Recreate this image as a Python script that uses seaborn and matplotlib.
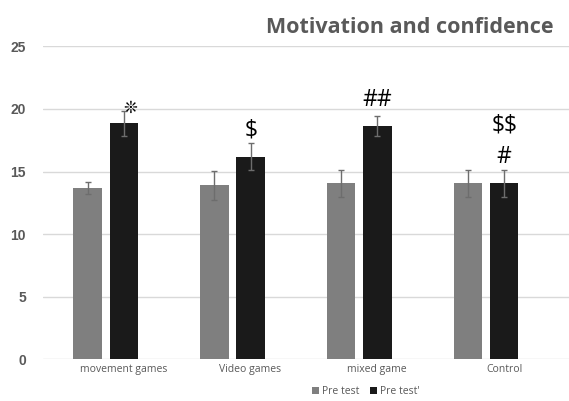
import matplotlib
matplotlib.use("Agg")
import matplotlib.pyplot as plt
from matplotlib.transforms import ScaledTranslation
import numpy as np
import pandas as pd
import seaborn as sns

# data
groups = ['movement games', 'Video games', 'mixed game', 'Control']
series = ['Pre test', "Pre test'"]
pre_mean = [13.7, 13.9, 14.05, 14.05]
pre_sd = [0.45, 1.13, 1.1, 1.1]
post_mean = [18.85, 16.2, 18.65, 14.05]
post_sd = [1.0, 1.1, 0.82, 1.04]
marks = ['❊', '\\$', '##', '#']
mark_y = [20.1, 18.25, 20.7, 16.15]
extra_mark = '\\$\\$'
extra_mark_y = 18.7
ticks = [0, 5, 10, 15, 20, 25]

df = pd.DataFrame({
    'group': groups * 2,
    'test': [series[0]] * 4 + [series[1]] * 4,
    'score': pre_mean + post_mean,
    'sd': pre_sd + post_sd,
})

sns.set_theme(style='white')
plt.rcParams['font.family'] = ['DejaVu Sans']

fig = plt.figure(figsize=(5.69, 4.01), dpi=100)
ax = fig.add_axes([42.7 / 569, 0.1035, 1 - 42.7 / 569, 0.781])

sns.barplot(data=df, x='group', y='score', hue='test', order=groups,
            hue_order=series, palette=['#7f7f7f', '#1a1a1a'],
            width=0.573, gap=0.22, errorbar=None, legend=True, ax=ax,
            saturation=1, linewidth=0, zorder=2)

# error bars on top of each bar
bars = [p for p in ax.patches if p.get_height() > 0]
sds = pre_sd + post_sd
for p, s in zip(bars, sds):
    cx = p.get_x() + p.get_width() / 2
    ax.errorbar(cx, p.get_height(), yerr=s, color='#6d6d6d', lw=1,
                capsize=2.5, capthick=1, zorder=3)

# significance marks above the second series
post_bars = bars[4:]
for p, m, y in zip(post_bars, marks, mark_y):
    cx = p.get_x() + p.get_width() / 2
    dx = 0.05 if m == '❊' else 0
    ax.text(cx + dx, y, m, ha='center', va='center',
            fontsize=12 if m == '❊' else 16.5, color='black',
            family=['DejaVu Sans'] if m == '❊' else ['Open Sans'])
cx = post_bars[3].get_x() + post_bars[3].get_width() / 2
ax.text(cx, extra_mark_y, extra_mark, ha='center', va='center',
        fontsize=16.5, color='black', family=['Open Sans'])

ax.set_ylim(0, 25)
ax.set_xlim(-0.497, 3.654)
ax.set_yticks(ticks)
ax.yaxis.grid(True, color='#d9d9d9', lw=1, zorder=0)
ax.set_axisbelow(True)
for sp in ax.spines.values():
    sp.set_visible(False)
ax.set_xlabel('')
ax.set_ylabel('')
ax.tick_params(axis='both', length=0)
ax.tick_params(axis='y', pad=12)
ax.tick_params(axis='x', pad=3)
for lab in ax.get_yticklabels():
    lab.set_family(['Liberation Sans'])
    lab.set_fontweight('bold')
    lab.set_fontsize(10)
    lab.set_color('#595959')
shift = ScaledTranslation(18 / 100, 0, fig.dpi_scale_trans)
for lab in ax.get_xticklabels():
    lab.set_family(['Open Sans'])
    lab.set_fontsize(7.5)
    lab.set_color('#595959')
    lab.set_transform(lab.get_transform() + shift)

leg = ax.legend(loc='center', bbox_to_anchor=(366 / 569, 0.023),
                bbox_transform=fig.transFigure, ncol=2, frameon=False,
                handlelength=0.7, handleheight=0.7, handletextpad=0.3,
                columnspacing=1.0, prop={'family': 'Open Sans', 'size': 7.5})
for t in leg.get_texts():
    t.set_color('#595959')

fig.text(554 / 569, 1 - 33.3 / 401, 'Motivation and confidence',
         ha='right', va='baseline', fontsize=15.5, fontweight='bold',
         color='#595959', family=['Open Sans'])

fig.savefig('out.png', dpi=100)
